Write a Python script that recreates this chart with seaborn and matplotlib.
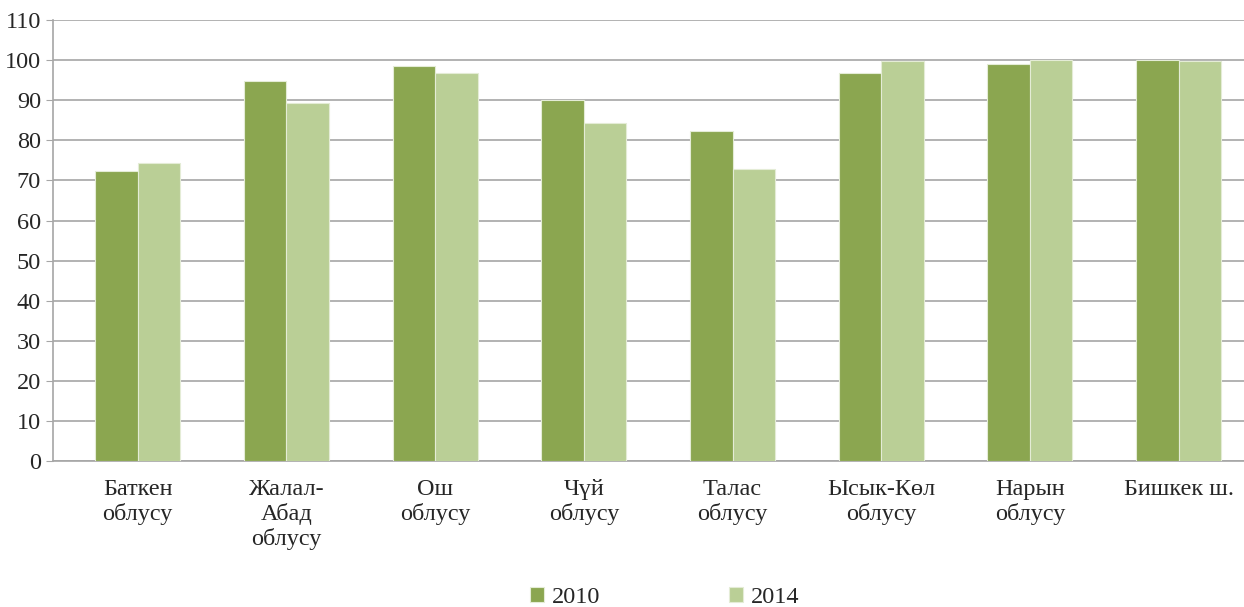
import pandas as pd
import matplotlib.pyplot as plt
import seaborn as sns

# Данные
regions = ['Баткен\nоблусу', 'Жалал-\nАбад\nоблусу', 'Ош\nоблусу', 'Чүй\nоблусу',
           'Талас\nоблусу', 'Ысык-Көл\nоблусу', 'Нарын\nоблусу', 'Бишкек ш.']
years = ['2010', '2014']
values_2010 = [72.3, 94.8, 98.6, 90.0, 82.3, 96.8, 99.0, 100.0]
values_2014 = [74.3, 89.3, 96.8, 84.3, 72.8, 99.8, 100.0, 99.9]

df = pd.DataFrame({
    'region': regions * 2,
    'year': [years[0]] * len(regions) + [years[1]] * len(regions),
    'value': values_2010 + values_2014,
})

sns.set_style('white')
plt.rcParams['font.family'] = ['Liberation Serif', 'DejaVu Serif']

fig, ax = plt.subplots(figsize=(12.44, 6.07), dpi=100)
fig.subplots_adjust(left=0.043, right=1.0, top=0.967, bottom=0.24)

cores = ['#8BA650', '#BACF96']
sns.barplot(data=df, x='region', y='value', hue='year', palette=cores,
            width=0.571, gap=0, edgecolor='#E4ECD6', linewidth=0.8,
            saturation=1, ax=ax, zorder=3)

ax.set_ylim(0, 110)
ax.set_yticks(range(0, 111, 10))
ax.set_xlim(-0.567, 7.44)
ax.yaxis.grid(True, color='#A6A6A6', linewidth=1.2, zorder=0)
ax.set_axisbelow(True)
ax.set_xlabel('')
ax.set_ylabel('')

for side in ['top', 'right']:
    ax.spines[side].set_visible(False)
for side in ['left', 'bottom']:
    ax.spines[side].set_color('#A6A6A6')
    ax.spines[side].set_linewidth(1.2)

ax.tick_params(axis='y', left=True, length=5, color='#A6A6A6', labelsize=17.5, pad=4)
ax.tick_params(axis='x', bottom=False, labelsize=17.5, pad=9)
for lbl in ax.get_xticklabels():
    lbl.set_linespacing(1.2)

ax.legend(loc='lower center', bbox_to_anchor=(0.513, -0.382), ncol=2, frameon=False,
          fontsize=17.5, handlelength=0.6, handleheight=0.6, handletextpad=0.3,
          columnspacing=5.3)

plt.savefig('out.png', dpi=100)
